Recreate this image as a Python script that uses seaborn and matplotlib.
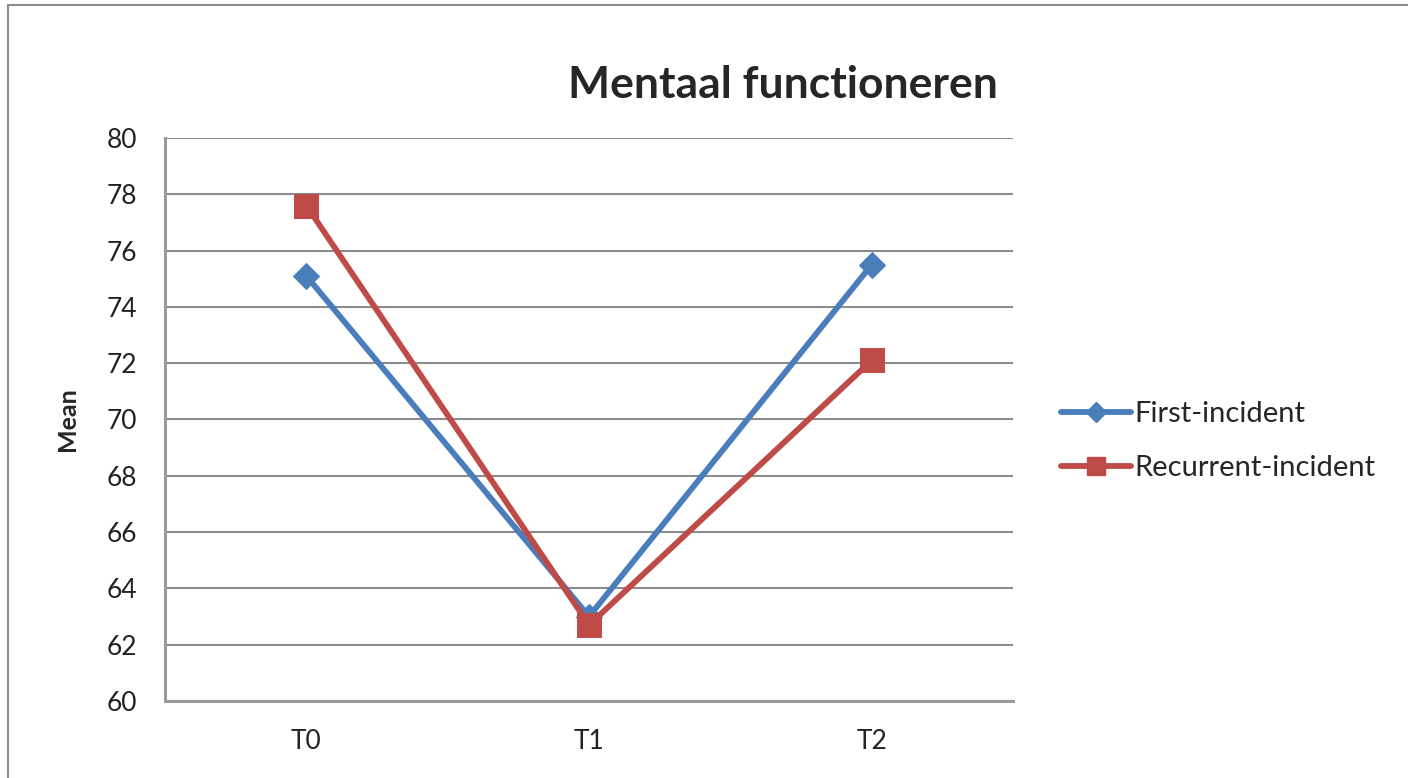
import matplotlib
matplotlib.use("Agg")
import matplotlib.pyplot as plt
import matplotlib.patches as mpatches
import seaborn as sns
import pandas as pd

# data
timepoints = ["T0", "T1", "T2"]
first_incident = [75.1, 63.0, 75.5]
recurrent_incident = [77.6, 62.7, 72.1]
groups = ["First-incident", "Recurrent-incident"]
colors = {"First-incident": "#4A7EBB", "Recurrent-incident": "#BE4B48"}

df = pd.DataFrame({
    "time": timepoints * 2,
    "mean": first_incident + recurrent_incident,
    "group": [groups[0]] * 3 + [groups[1]] * 3,
})
df["x"] = df["time"].map({t: i for i, t in enumerate(timepoints)})

sns.set_style("white")
plt.rcParams["font.family"] = ["Lato", "DejaVu Sans"]

fig = plt.figure(figsize=(14.08, 7.78), dpi=100)
ax = fig.add_axes([0.1172, 0.0990, 0.6023, 0.7236])

# outer chart border
fig.patches.append(mpatches.Rectangle((0.006, -0.05), 1.2, 1.0436, transform=fig.transFigure,
                                      fill=False, edgecolor="#8c8c8c", linewidth=1.5))

sns.lineplot(data=df, x="x", y="mean", hue="group", style="group", palette=colors,
             markers={"First-incident": "D", "Recurrent-incident": "s"}, dashes=False,
             sort=False, linewidth=4.2, ax=ax, legend=False)

for line, g in zip(ax.lines, groups):
    line.set_markeredgecolor(colors[g])
    line.set_markersize(13 if g == "First-incident" else 17)

ax.set_xlim(-0.5, 2.5)
ax.set_ylim(60, 80)
ax.set_yticks(range(60, 81, 2))
ax.set_xticks(range(3))
ax.set_xticklabels(timepoints)
ax.tick_params(axis="both", length=0, labelsize=19, colors="#222222")
ax.tick_params(axis="y", pad=20)
ax.tick_params(axis="x", pad=20)
ax.yaxis.grid(True, color="#8c8c8c", linewidth=1.5)
ax.set_axisbelow(True)
for s in ["top", "right"]:
    ax.spines[s].set_visible(False)
for s in ["left", "bottom"]:
    ax.spines[s].set_color("#9a9a9a")
    ax.spines[s].set_linewidth(2.2)
ax.set_xlabel("")
ax.set_ylabel("Mean", fontsize=18, fontweight="bold", labelpad=20)

fig.text(0.556, 0.891, "Mentaal functioneren", ha="center", va="center",
         fontsize=32, fontweight="bold")

handles = [plt.Line2D([], [], color=colors[g], linewidth=4.2,
                      marker="D" if g == groups[0] else "s",
                      markersize=10 if g == groups[0] else 13,
                      markeredgecolor=colors[g]) for g in groups]
fig.legend(handles, groups, loc="center left", bbox_to_anchor=(0.735, 0.433),
           frameon=False, fontsize=21, handlelength=2.4, handletextpad=0.1,
           labelspacing=0.95)

fig.savefig("out.png", dpi=100)
